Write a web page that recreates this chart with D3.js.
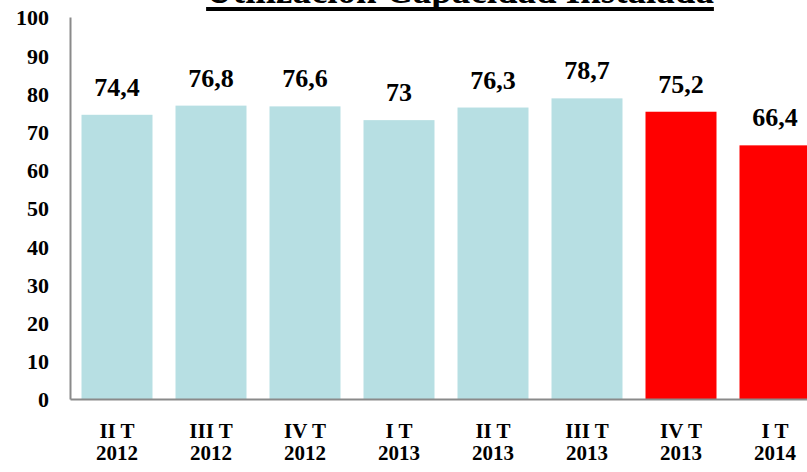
<!DOCTYPE html>
<html>
<head>
<meta charset="utf-8">
<script src="https://cdn.jsdelivr.net/npm/d3@7"></script>
<style>
  html, body { margin: 0; padding: 0; background: #fff; overflow: hidden; }
  svg { display: block; }
  text { font-family: "Liberation Serif", "Times New Roman", serif; font-weight: bold; fill: #000; }
</style>
</head>
<body>
<svg id="chart" width="807" height="472"></svg>
<script>
const title = "Utilización Capacidad Instalada";
const categories = ["II T|2012", "III T|2012", "IV T|2012", "I T|2013", "II T|2013", "III T|2013", "IV T|2013", "I T|2014"];
const values = [74.4, 76.8, 76.6, 73, 76.3, 78.7, 75.2, 66.4];
const valueLabels = ["74,4", "76,8", "76,6", "73", "76,3", "78,7", "75,2", "66,4"];
const highlighted = [false, false, false, false, false, false, true, true];
const yTicks = [0, 10, 20, 30, 40, 50, 60, 70, 80, 90, 100];

const svg = d3.select("#chart");
const mLeft = 70, mRight = 822, mTop = 17, mBottom = 399;
const padIn = 23 / 94;

const x = d3.scaleBand().domain(categories).range([mLeft, mRight]).paddingInner(padIn).paddingOuter(padIn / 2);
const y = d3.scaleLinear().domain([0, 100]).range([mBottom, mTop]);

// bars
svg.append("g").selectAll("rect").data(categories).join("rect")
  .attr("x", d => x(d))
  .attr("width", x.bandwidth())
  .attr("y", (d, i) => y(values[i]))
  .attr("height", (d, i) => y(0) - y(values[i]))
  .attr("fill", (d, i) => highlighted[i] ? "#ff0000" : "#b7dfe3");

// value labels
svg.append("g").selectAll("text").data(categories).join("text")
  .attr("x", d => x(d) + x.bandwidth() / 2)
  .attr("y", (d, i) => y(values[i]) - 19)
  .attr("text-anchor", "middle")
  .style("font-size", "26px")
  .text((d, i) => valueLabels[i]);

// y axis
const yAxis = d3.axisLeft(y).tickValues(yTicks).tickSize(0).tickPadding(20);
const gy = svg.append("g").attr("transform", `translate(${mLeft},0)`).call(yAxis);
gy.select(".domain").attr("stroke", "#8a8a8a").attr("stroke-width", 2);
gy.selectAll(".tick text")
  .attr("x", -21)
  .attr("dy", "0.36em")
  .style("font-size", "22px")
  .style("font-family", "'Liberation Serif', 'Times New Roman', serif")
  .style("font-weight", "bold")
  .attr("fill", "#000");

// x axis
const xAxis = d3.axisBottom(x).tickSize(0).tickFormat(() => "");
const gx = svg.append("g").attr("transform", `translate(0,${mBottom})`).call(xAxis);
gx.select(".domain").attr("stroke", "#8a8a8a").attr("stroke-width", 2);
gx.selectAll(".tick").each(function(d) {
  const parts = d.split("|");
  const g = d3.select(this);
  [parts[0], parts[1]].forEach((p, k) => {
    g.append("text")
      .attr("text-anchor", "middle")
      .attr("x", 0)
      .attr("y", k === 0 ? 39 : 61)
      .style("font-size", "21px")
      .style("font-family", "'Liberation Serif', 'Times New Roman', serif")
      .style("font-weight", "bold")
      .attr("fill", "#000")
      .text(p);
  });
});

// title
const tt = svg.append("text")
  .attr("x", 460)
  .attr("y", 3)
  .attr("text-anchor", "middle")
  .style("font-size", "37px")
  .text(title);
const w = tt.node().getComputedTextLength();
svg.append("rect")
  .attr("x", 460 - w / 2)
  .attr("y", 7)
  .attr("width", w)
  .attr("height", 4)
  .attr("fill", "#000");
</script>
</body>
</html>
